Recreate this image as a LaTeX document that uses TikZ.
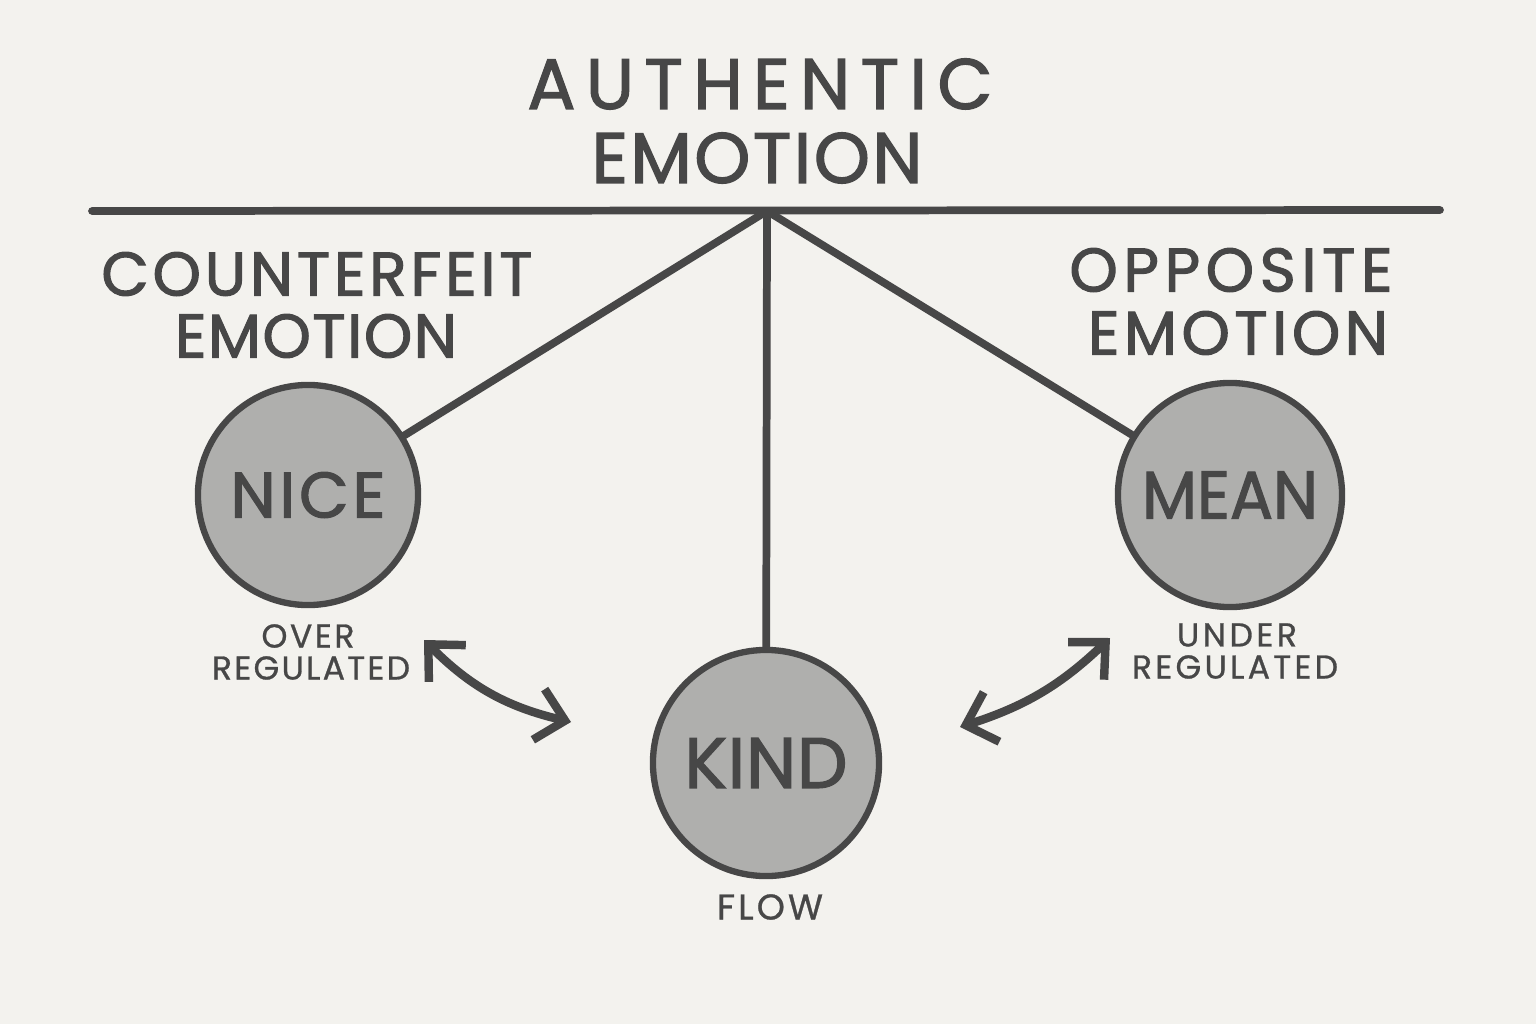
\documentclass[tikz,border=0pt]{standalone}
\usepackage{fontspec}
\usepackage{graphicx}
\setmainfont{Poppins}[FakeBold=0.8]
\newfontfamily\heavyf{Poppins}[FakeBold=1.8]
\usetikzlibrary{arrows.meta}
\definecolor{paper}{HTML}{F3F2EE}
\definecolor{ink}{HTML}{474747}
\definecolor{fillg}{HTML}{AFAFAD}
\newlength\sprlen
\def\sprA#1{#1\sprB}
\def\sprB#1{\ifx#1\relax\else\hfil#1\expandafter\sprB\fi}
\newcommand\spr[2]{\settowidth\sprlen{#2}%
  \ifdim\sprlen>#1\relax\resizebox{#1}{\height}{#2}\else\makebox[#1][s]{\sprA#2\relax}\fi}
\begin{document}
\begin{tikzpicture}[x=0.01cm,y=-0.01cm,
  inkline/.style={draw=ink, line width=2.2pt, line cap=round},
  bubble/.style={circle, draw=ink, line width=1.8pt, fill=fillg, inner sep=0pt, text=ink},
  lbl/.style={inner sep=0pt, text=ink},
  twoarrow/.style={draw=ink, line width=2.4pt, line cap=round, line join=round, <->},
  >={Straight Barb[length=2.7mm,width=5.2mm]}]
\fill[paper] (0,0) rectangle (1536,1024);
\useasboundingbox (0,0) rectangle (1536,1024);
% titles
\node[lbl, font=\heavyf\fontsize{20.3pt}{24pt}\selectfont] (t1) at (760,84) {\spr{4.65cm}{AUTHENTIC}};
\node[lbl, font=\heavyf\fontsize{20.3pt}{24pt}\selectfont] (t2) at (757,158) {\spr{3.31cm}{EMOTION}};
\node[lbl, font=\heavyf\fontsize{17.5pt}{20pt}\selectfont] (c1) at (317,274) {\spr{4.31cm}{COUNTERFEIT}};
\node[lbl, font=\heavyf\fontsize{17.5pt}{20pt}\selectfont] (c2) at (316,336) {\spr{2.82cm}{EMOTION}};
\node[lbl, font=\heavyf\fontsize{17.5pt}{20pt}\selectfont] (o1) at (1231,270) {\spr{3.23cm}{OPPOSITE}};
\node[lbl, font=\heavyf\fontsize{17.5pt}{20pt}\selectfont] (o2) at (1238,333) {\spr{3.0cm}{EMOTION}};
% bubbles
\node[bubble, minimum size=2.2cm, font=\heavyf\fontsize{18.3pt}{20pt}\selectfont] (nice) at (308,495) {\spr{1.55cm}{NICE}};
\node[bubble, minimum size=2.26cm, font=\heavyf\fontsize{20.3pt}{22pt}\selectfont] (kind) at (766,763) {\spr{1.63cm}{KIND}};
\node[bubble, minimum size=2.24cm, font=\heavyf\fontsize{19.1pt}{21pt}\selectfont] (mean) at (1230,495) {\spr{1.76cm}{MEAN}};
% small labels
\node[lbl, font=\fontsize{9.4pt}{11pt}\selectfont] (ov) at (308,636) {\spr{0.93cm}{OVER}};
\node[lbl, font=\fontsize{9.4pt}{11pt}\selectfont] (rg1) at (311,668) {\spr{1.98cm}{REGULATED}};
\node[lbl, font=\fontsize{9.4pt}{11pt}\selectfont] (un) at (1237,635) {\spr{1.2cm}{UNDER}};
\node[lbl, font=\fontsize{9.4pt}{11pt}\selectfont] (rg2) at (1235,667) {\spr{2.06cm}{REGULATED}};
\node[lbl, font=\fontsize{10.2pt}{12pt}\selectfont] (fl) at (770,907) {\spr{1.06cm}{FLOW}};
% bar and connectors
\coordinate (hl) at (92,211);
\coordinate (hr) at (1440,210);
\coordinate (J) at (767,211);
\draw[inkline] (hl) -- (hr);
\draw[inkline] (J) -- (nice);
\draw[inkline] (J) -- (kind);
\draw[inkline] (J) -- (mean);
% double arrows
\coordinate (la1) at (424,640);
\coordinate (la2) at (571,722);
\coordinate (ra1) at (960,727);
\coordinate (ra2) at (1110,638);
\draw[twoarrow] (la1) to[bend right=16] (la2);
\draw[twoarrow] (ra1) to[bend right=13] (ra2);
\end{tikzpicture}
\end{document}
